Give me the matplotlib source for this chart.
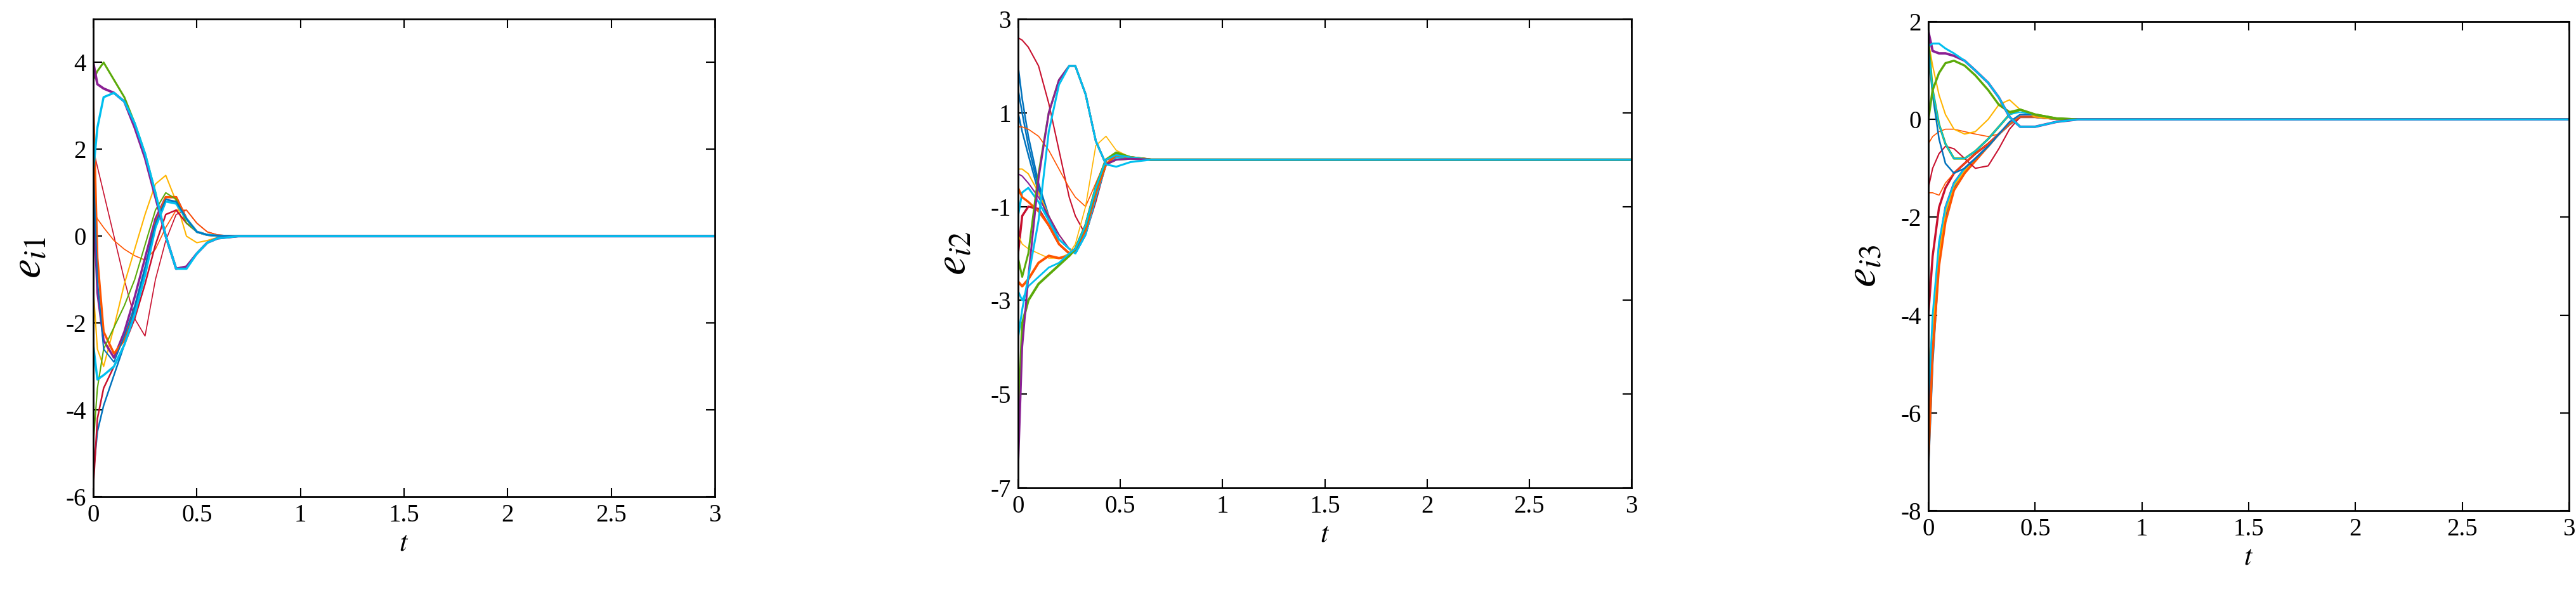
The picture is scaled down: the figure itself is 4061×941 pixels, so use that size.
import matplotlib
matplotlib.use("Agg")
import matplotlib.pyplot as plt

plt.rcParams['font.family'] = ['Liberation Serif', 'DejaVu Serif']
plt.rcParams['mathtext.fontset'] = 'stix'

C = {'b': '#0072BD', 'o': '#FF5500', 'y': '#FFB400', 'p': '#8B2094',
     'g': '#5BAA0A', 'c': '#00BFEF', 'r': '#C8102E'}

# ---------- panel 1 : e_i1 ----------
t1 = [0, 0.02, 0.05, 0.1, 0.15, 0.2, 0.25, 0.3, 0.35, 0.4, 0.45, 0.5, 0.55, 0.6, 0.7, 3]
e1 = [
    ('r', 1.2, [2.0, 1.6, 1.0, 0.0, -1.0, -1.9, -2.3, -1.0, -0.1, 0.5, 0.6, 0.3, 0.1, 0.03, 0, 0]),
    ('o', 1.2, [0.6, 0.4, 0.2, -0.1, -0.3, -0.45, -0.55, -0.3, 0.2, 0.6, 0.6, 0.3, 0.1, 0.03, 0, 0]),
    ('y', 1.5, [-1.2, -2.6, -3.0, -2.1, -1.1, -0.3, 0.5, 1.2, 1.4, 0.8, 0.0, -0.15, -0.1, -0.03, 0, 0]),
    ('p', 2.5, [1.0, -1.3, -2.4, -2.8, -2.2, -1.4, -0.5, 0.4, 0.9, 0.9, 0.4, 0.1, 0.03, 0.01, 0, 0]),
    ('o', 2.5, [3.1, -0.5, -2.2, -2.7, -2.4, -1.7, -0.8, 0.3, 0.9, 0.9, 0.4, 0.1, 0.03, 0.01, 0, 0]),
    ('b', 1.8, [-5.5, -4.5, -3.9, -3.2, -2.5, -1.7, -0.8, 0.2, 0.8, 0.8, 0.4, 0.1, 0.03, 0.01, 0, 0]),
    ('r', 1.8, [-5.8, -4.2, -3.5, -3.0, -2.5, -1.9, -1.1, -0.2, 0.5, 0.6, 0.3, 0.1, 0.03, 0.01, 0, 0]),
    ('g', 1.5, [-4.8, -3.5, -2.6, -2.1, -1.6, -1.0, -0.2, 0.6, 1.0, 0.85, 0.3, 0.1, 0.03, 0.01, 0, 0]),
    ('c', 2.5, [-2.5, -3.3, -3.2, -3.0, -2.5, -1.8, -0.9, 0.2, 0.8, 0.75, 0.4, 0.1, 0.03, 0.01, 0, 0]),
    ('b', 1.5, [1.7, -1.0, -2.6, -2.9, -2.3, -1.6, -0.7, 0.3, 0.85, 0.8, 0.4, 0.1, 0.03, 0.01, 0, 0]),
    ('g', 2.2, [3.6, 3.8, 4.0, 3.6, 3.2, 2.6, 1.9, 1.0, 0.0, -0.75, -0.7, -0.4, -0.15, -0.05, 0, 0]),
    ('p', 2.8, [4.0, 3.5, 3.4, 3.3, 3.1, 2.5, 1.8, 0.9, 0.0, -0.75, -0.7, -0.4, -0.15, -0.05, 0, 0]),
    ('c', 2.5, [1.5, 2.5, 3.2, 3.3, 3.1, 2.6, 1.9, 1.0, 0.0, -0.75, -0.75, -0.4, -0.15, -0.05, 0, 0]),
]

# ---------- panel 2 : e_i2 ----------
t2 = [0, 0.02, 0.05, 0.1, 0.15, 0.2, 0.25, 0.28, 0.33, 0.38, 0.43, 0.48, 0.55, 0.65, 3]
e2 = [
    ('r', 1.5, [2.6, 2.55, 2.4, 2.0, 1.2, 0.2, -0.8, -1.2, -1.6, -0.9, -0.1, 0.1, 0.05, 0, 0]),
    ('b', 1.8, [2.0, 1.3, 0.5, -0.5, -1.2, -1.7, -1.9, -2.0, -1.6, -0.8, -0.1, 0.1, 0.05, 0, 0]),
    ('b', 1.8, [1.5, 1.0, 0.3, -0.6, -1.3, -1.7, -1.9, -2.0, -1.6, -0.8, -0.1, 0.1, 0.05, 0, 0]),
    ('b', 1.8, [1.0, 0.6, 0.1, -0.7, -1.3, -1.7, -1.9, -2.0, -1.6, -0.8, -0.1, 0.1, 0.05, 0, 0]),
    ('o', 1.2, [0.7, 0.7, 0.65, 0.5, 0.2, -0.2, -0.6, -0.8, -1.0, -0.5, 0.0, 0.1, 0.05, 0, 0]),
    ('y', 1.5, [-0.2, -0.2, -0.3, -0.7, -1.2, -1.6, -1.9, -1.95, -1.6, -0.8, -0.1, 0.1, 0.05, 0, 0]),
    ('p', 1.5, [-0.3, -0.35, -0.5, -0.8, -1.2, -1.6, -1.9, -1.95, -1.6, -0.8, -0.1, 0.1, 0.05, 0, 0]),
    ('c', 2.2, [-1.2, -0.7, -0.6, -0.9, -1.3, -1.7, -1.9, -2.0, -1.6, -0.8, -0.1, 0.05, 0.03, 0, 0]),
    ('r', 2.5, [-2.0, -1.2, -1.0, -1.05, -1.4, -1.8, -2.0, -1.9, -1.5, -0.7, -0.1, 0.1, 0.05, 0, 0]),
    ('o', 2.5, [-0.6, -0.8, -0.9, -1.1, -1.4, -1.8, -2.0, -1.9, -1.5, -0.7, -0.1, 0.1, 0.05, 0, 0]),
    ('y', 1.2, [-1.6, -1.8, -1.9, -2.0, -2.1, -2.1, -2.0, -1.8, -1.0, 0.3, 0.5, 0.2, 0.05, 0, 0]),
    ('o', 2.8, [-2.6, -2.7, -2.55, -2.2, -2.05, -2.1, -2.05, -1.9, -1.4, -0.6, 0.0, 0.1, 0.05, 0, 0]),
    ('g', 2.8, [-6.0, -3.5, -3.0, -2.65, -2.45, -2.25, -2.05, -1.9, -1.4, -0.6, 0.0, 0.15, 0.05, 0, 0]),
    ('c', 2.0, [-2.8, -3.0, -2.7, -2.5, -2.3, -2.2, -2.0, -1.9, -1.4, -0.6, 0.0, 0.1, 0.05, 0, 0]),
    ('g', 2.2, [-2.1, -2.5, -2.0, -0.3, 1.0, 1.7, 2.0, 2.0, 1.4, 0.4, -0.1, 0.0, 0.02, 0, 0]),
    ('p', 2.2, [-6.6, -4.0, -2.5, -0.4, 1.0, 1.7, 2.0, 2.0, 1.4, 0.4, -0.1, 0.0, 0.02, 0, 0]),
    ('c', 2.2, [-3.8, -3.2, -2.5, -1.3, 0.6, 1.6, 2.0, 2.0, 1.4, 0.4, -0.1, -0.15, -0.05, 0, 0]),
]

# ---------- panel 3 : e_i3 ----------
t3 = [0, 0.02, 0.05, 0.08, 0.12, 0.17, 0.22, 0.28, 0.33, 0.38, 0.43, 0.5, 0.6, 0.7, 3]
e3 = [
    ('r', 2.5, [-4.0, -2.8, -1.8, -1.4, -1.1, -0.9, -0.7, -0.5, -0.3, -0.1, 0.05, 0.05, 0.01, 0, 0]),
    ('p', 2.5, [-6.6, -4.5, -2.6, -1.8, -1.3, -1.0, -0.8, -0.55, -0.3, -0.1, 0.05, 0.05, 0.01, 0, 0]),
    ('b', 2.0, [-7.2, -5.0, -2.9, -2.0, -1.4, -1.1, -0.8, -0.55, -0.3, -0.1, 0.05, 0.05, 0.01, 0, 0]),
    ('y', 2.0, [-5.3, -4.3, -2.8, -1.9, -1.35, -1.05, -0.8, -0.55, -0.3, -0.1, 0.05, 0.05, 0.01, 0, 0]),
    ('o', 2.5, [-7.0, -4.8, -3.0, -2.1, -1.45, -1.1, -0.85, -0.55, -0.3, -0.1, 0.05, 0.05, 0.01, 0, 0]),
    ('c', 2.0, [-5.8, -4.0, -2.5, -1.8, -1.3, -1.0, -0.8, -0.55, -0.3, -0.1, 0.05, 0.05, 0.01, 0, 0]),
    ('o', 1.2, [-0.5, -0.35, -0.25, -0.2, -0.2, -0.25, -0.3, -0.35, -0.3, -0.1, 0.05, 0.05, 0.01, 0, 0]),
    ('r', 1.5, [-1.4, -1.0, -0.7, -0.55, -0.6, -0.8, -1.0, -0.95, -0.6, -0.2, 0.05, 0.05, 0.01, 0, 0]),
    ('o', 1.2, [-1.5, -1.5, -1.55, -1.3, -1.1, -0.9, -0.7, -0.5, -0.3, -0.1, 0.05, 0.05, 0.01, 0, 0]),
    ('y', 1.5, [1.6, 1.1, 0.5, 0.1, -0.2, -0.3, -0.25, 0.0, 0.3, 0.4, 0.2, 0.05, 0.01, 0, 0]),
    ('b', 1.8, [1.4, 0.5, -0.4, -0.9, -1.1, -1.0, -0.8, -0.55, -0.3, -0.05, 0.1, 0.1, 0.02, 0, 0]),
    ('g', 2.5, [1.6, 0.6, -0.1, -0.5, -0.8, -0.8, -0.65, -0.4, -0.15, 0.1, 0.2, 0.1, 0.02, 0, 0]),
    ('c', 1.5, [1.5, 0.6, -0.1, -0.5, -0.8, -0.8, -0.65, -0.4, -0.15, 0.1, 0.15, 0.1, 0.02, 0, 0]),
    ('g', 2.5, [0.0, 0.6, 0.95, 1.15, 1.2, 1.1, 0.9, 0.6, 0.3, 0.15, 0.2, 0.1, 0.02, 0, 0]),
    ('p', 2.8, [1.8, 1.4, 1.35, 1.35, 1.3, 1.2, 1.0, 0.75, 0.45, 0.05, -0.15, -0.15, -0.05, 0, 0]),
    ('c', 2.2, [1.5, 1.55, 1.55, 1.45, 1.35, 1.2, 1.0, 0.75, 0.45, 0.05, -0.15, -0.15, -0.05, 0, 0]),
]

xticks = [0, 0.5, 1, 1.5, 2, 2.5, 3]
xticklabels = ['0', '0.5', '1', '1.5', '2', '2.5', '3']

W, H = 4062, 941
fig = plt.figure(figsize=(W / 100, H / 100), dpi=100)

panels = [
    (t1, e1, (147, 30, 1127, 783), (-6, 5), [-6, -4, -2, 0, 2, 4], r'$e_{i1}$'),
    (t2, e2, (1605, 30, 2572, 769), (-7, 3), [-7, -5, -3, -1, 1, 3], r'$e_{i2}$'),
    (t3, e3, (3040, 34, 4050, 805), (-8, 2), [-8, -6, -4, -2, 0, 2], r'$e_{i3}$'),
]
for t, curves, (x0, y0, x1, y1), ylim, yt, lab in panels:
    ax = fig.add_axes([x0 / W, 1 - y1 / H, (x1 - x0) / W, (y1 - y0) / H])
    for col, lw, vals in curves:
        ax.plot(t, vals, color=C[col], lw=lw)
    ax.set_xlim(0, 3)
    ax.set_ylim(*ylim)
    ax.set_xticks(xticks)
    ax.set_xticklabels(xticklabels)
    ax.set_yticks(yt)
    ax.set_yticklabels([str(v) for v in yt])
    ax.tick_params(direction='in', top=True, right=True, labelsize=28, length=10, width=1.5, pad=8)
    for s in ax.spines.values():
        s.set_linewidth(2)
    ax.set_xlabel(r'$t$', fontsize=32, labelpad=4)
    ax.set_ylabel(lab, fontsize=50, labelpad=18)

fig.savefig('out.png', dpi=100)
